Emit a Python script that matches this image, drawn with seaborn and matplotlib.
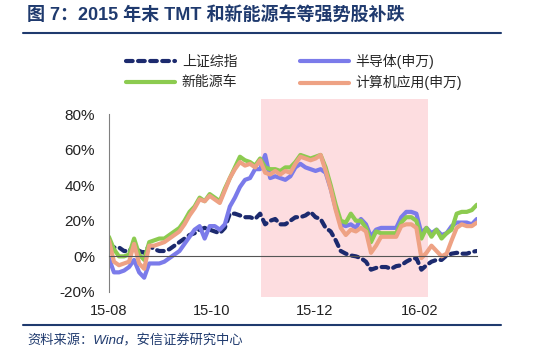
import pandas as pd
import numpy as np
import matplotlib
matplotlib.use('Agg')
import matplotlib.pyplot as plt
import matplotlib.dates as mdates
import seaborn as sns

# 数据 (读图估计, 单位 %)
sh_index = [7, 5, 5, 3, 3, 6, 3, 2, 6, 4, 3, 3, 4, 6, 8, 10, 12, 13, 15, 16,
            15, 14, 13, 16, 24, 24, 23, 22, 22, 21, 24, 18, 20, 21, 18, 18, 20, 22, 22, 23,
            25, 22, 21, 16, 14, 9, 3, 1.5, 0.5, 0, -1, -3, -7.5, -6.5, -6, -6, -7, -5.5, -5, -3,
            -1.5, -1, -7.5, -5, -3, -2, -2, 0.5, 1.5, 2, 1.5, 1.5, 2.5, 3]
semi = [-1, -9, -9, -8, -6, -2, -9, -12, -4, -4, -4, -3, -1, 1, 3, 7, 11, 15, 17, 10,
        17, 17, 15, 18, 28, 33, 39, 43, 44, 49, 49, 57, 44, 45, 44, 43, 45, 50, 52, 50,
        49, 48, 49, 47, 38, 27, 18, 17, 18, 16, 21, 18, 11, 15, 16, 16, 16, 16, 22, 25,
        25, 24, 13, 16, 13, 15, 12, 13, 17, 19, 19, 19, 18, 21]
nev = [11, 4, 0, 0, 1, 10, 1, -2, 8, 9, 10, 10, 12, 14, 16, 20, 25, 28, 33, 31,
       35, 33, 31, 38, 44, 50, 56, 54, 53, 51, 55, 50, 49, 49, 48, 50, 50, 53, 57, 56,
       55, 56, 57, 50, 40, 29, 20, 19, 24, 20, 20, 16, 8, 14, 13, 13, 13, 13, 19, 22,
       22, 20, 10, 16, 11, 15, 10, 13, 15, 24, 25, 25, 26, 29]
computer = [9, -3, -5, -4, -3, 7, -4, -7, 6, 6, 7, 8, 10, 12, 14, 18, 23, 27, 32, 31,
            34, 32, 30, 37, 44, 49, 53, 51, 52, 50, 54, 47, 46, 48, 46, 48, 47, 52, 56, 55,
            54, 55, 57, 48, 38, 26, 16, 12, 15, 14, 16, 14, 2, 6, 11, 11, 11, 11, 17, 18,
            18, 16, -1, 2, 6, 3, 0, 1.5, 9, 16, 18, 17, 17, 19]
names = ['上证综指', '半导体(申万)', '新能源车', '计算机应用(申万)']
colors = ['#1c2a6e', '#7b7bea', '#8ccb50', '#eea284']

dates = pd.date_range('2015-08-01', '2016-03-06', periods=len(sh_index))
shade_start, shade_end = pd.Timestamp('2015-10-30'), pd.Timestamp('2016-02-06')
tick_dates = pd.to_datetime(['2015-08-01', '2015-10-01', '2015-12-01', '2016-02-01'])

df = pd.DataFrame({'date': dates, names[0]: sh_index, names[1]: semi,
                   names[2]: nev, names[3]: computer})

sns.set_style('white')
plt.rcParams['font.family'] = ['Liberation Sans', 'Noto Sans CJK SC']
plt.rcParams['axes.unicode_minus'] = False

fig = plt.figure(figsize=(5.5, 3.53), dpi=100)
ax = fig.add_axes([0.198, 0.173, 0.669, 0.504])

ax.axvspan(shade_start, shade_end, ymin=-0.028, ymax=1.084, color='#fddde0',
           lw=0, zorder=0, clip_on=False)

sns.lineplot(data=df, x='date', y=names[0], ax=ax, color=colors[0], lw=3,
             label=names[0])
ax.lines[-1].set_linestyle((0, (1.6, 1.3)))
ax.lines[-1].set_dash_capstyle('round')
for i in [1, 2, 3]:
    sns.lineplot(data=df, x='date', y=names[i], ax=ax, color=colors[i], lw=3,
                 label=names[i])

ax.set_ylim(-20, 80)
ax.set_xlim(dates[0], dates[-1])
ax.set_yticks([-20, 0, 20, 40, 60, 80])
ax.set_yticklabels(['-20%', '0%', '20%', '40%', '60%', '80%'])
ax.set_xticks(tick_dates)
ax.xaxis.set_major_formatter(mdates.DateFormatter('%y-%m'))
ax.set_xlabel('')
ax.set_ylabel('')

for s in ['top', 'right']:
    ax.spines[s].set_visible(False)
ax.spines['left'].set_color('#808080')
ax.spines['bottom'].set_color('#555555')
ax.spines['bottom'].set_position(('data', 0))
ax.tick_params(axis='y', direction='in', length=4, color='#808080',
               labelsize=11, labelcolor='#222222', pad=10)
ax.tick_params(axis='x', direction='in', length=4, color='#555555',
               labelsize=10.5, labelcolor='#222222', pad=34)

handles, labels = ax.get_legend_handles_labels()
ax.get_legend().remove()
order = [0, 2, 1, 3]
fig.legend([handles[i] for i in order], [labels[i] for i in order],
           ncol=2, frameon=False, loc='upper left', bbox_to_anchor=(0.207, 0.882),
           fontsize=10, handlelength=3.5, columnspacing=4.5, handletextpad=0.5,
           labelspacing=0.45)

navy = '#1f3a6e'
fig.text(0.049, 0.955, '图 7：2015 年末 TMT 和新能源车等强势股补跌',
         fontsize=13, fontweight='bold', color=navy, va='center', ha='left')
fig.add_artist(plt.Line2D([0.042, 0.91], [0.907, 0.907], color=navy, lw=1.5))
fig.add_artist(plt.Line2D([0.042, 0.91], [0.079, 0.079], color=navy, lw=1.5))
fig.text(0.049, 0.035, '资料来源：Wind，安信证券研究中心',
         fontsize=9.5, style='italic', color=navy, va='center', ha='left')

fig.savefig('out.png', dpi=100)
